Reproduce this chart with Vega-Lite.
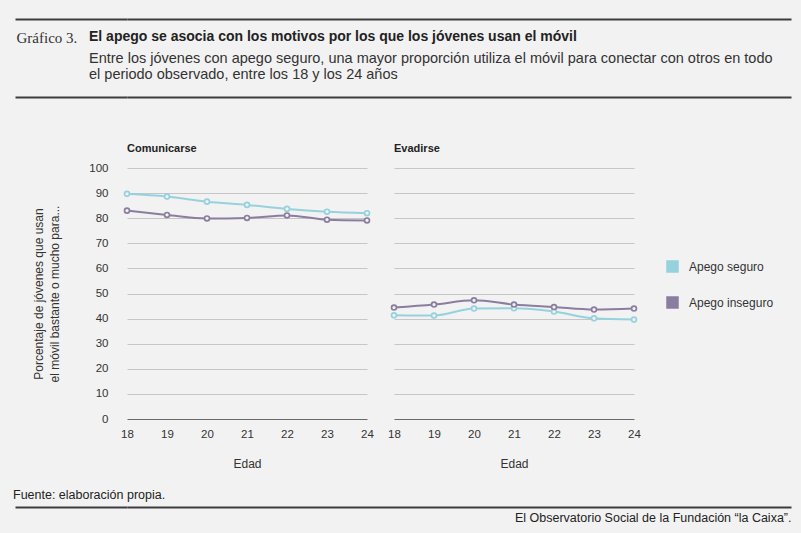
{
  "$schema": "https://vega.github.io/schema/vega-lite/v6.json",
  "background": "#f2f2f2",
  "padding": {"left": 13, "top": 18, "right": 10, "bottom": 9},
  "config": {
    "font": "Liberation Sans",
    "view": {"stroke": null},
    "axis": {"labelColor": "#333", "titleColor": "#333", "labelFont": "Liberation Sans", "titleFont": "Liberation Sans"}
  },
  "spacing": 18,
  "vconcat": [
    {
      "width": 664,
      "height": 78,
      "data": {"values": [{"v": 0}]},
      "mark": {"type": "point", "opacity": 0},
      "title": {
        "text": "El apego se asocia con los motivos por los que los jóvenes usan el móvil",
        "subtitle": [
          "Entre los jóvenes con apego seguro, una mayor proporción utiliza el móvil para conectar con otros en todo",
          "el periodo observado, entre los 18 y los 24 años"
        ],
        "anchor": "start",
        "frame": "group",
        "orient": "top",
        "dx": -38,
        "offset": -63,
        "fontSize": 14,
        "fontWeight": "bold",
        "color": "#222",
        "subtitleFontSize": 14.5,
        "subtitleColor": "#333",
        "subtitlePadding": 8,
        "subtitleLineHeight": 16
      },
      "encoding": {
        "x": {
          "field": "v",
          "type": "quantitative",
          "scale": {"domain": [0, 1]},
          "axis": {
            "orient": "bottom",
            "values": [0],
            "domain": false,
            "labels": false,
            "grid": false,
            "ticks": true,
            "tickColor": "transparent",
            "tickSize": 27,
            "title": null
          }
        },
        "y": {
          "field": "v",
          "type": "quantitative",
          "scale": {"domain": [0, 1]},
          "axis": {
            "values": [0, 1],
            "domain": false,
            "labels": false,
            "grid": true,
            "gridColor": "#3d3d3d",
            "gridWidth": 2,
            "ticks": true,
            "tickSize": 112,
            "tickColor": "#3d3d3d",
            "tickWidth": 2,
            "title": "Gráfico 3.",
            "titleAngle": 0,
            "titleAlign": "left",
            "titleBaseline": "middle",
            "titleX": -111,
            "titleY": 18,
            "titleFont": "Liberation Serif",
            "titleFontSize": 15,
            "titleFontWeight": "normal",
            "titleColor": "#333"
          }
        }
      }
    },
    {
      "data": {
        "values": [
          {"motivo": "Comunicarse", "apego": "Apego seguro", "edad": 18, "pct": 89.7},
          {"motivo": "Comunicarse", "apego": "Apego seguro", "edad": 19, "pct": 88.6},
          {"motivo": "Comunicarse", "apego": "Apego seguro", "edad": 20, "pct": 86.6},
          {"motivo": "Comunicarse", "apego": "Apego seguro", "edad": 21, "pct": 85.3},
          {"motivo": "Comunicarse", "apego": "Apego seguro", "edad": 22, "pct": 83.7},
          {"motivo": "Comunicarse", "apego": "Apego seguro", "edad": 23, "pct": 82.6},
          {"motivo": "Comunicarse", "apego": "Apego seguro", "edad": 24, "pct": 82.0},
          {"motivo": "Comunicarse", "apego": "Apego inseguro", "edad": 18, "pct": 83.0},
          {"motivo": "Comunicarse", "apego": "Apego inseguro", "edad": 19, "pct": 81.3},
          {"motivo": "Comunicarse", "apego": "Apego inseguro", "edad": 20, "pct": 79.9},
          {"motivo": "Comunicarse", "apego": "Apego inseguro", "edad": 21, "pct": 80.1},
          {"motivo": "Comunicarse", "apego": "Apego inseguro", "edad": 22, "pct": 81.1},
          {"motivo": "Comunicarse", "apego": "Apego inseguro", "edad": 23, "pct": 79.4},
          {"motivo": "Comunicarse", "apego": "Apego inseguro", "edad": 24, "pct": 79.1},
          {"motivo": "Evadirse", "apego": "Apego seguro", "edad": 18, "pct": 41.3},
          {"motivo": "Evadirse", "apego": "Apego seguro", "edad": 19, "pct": 41.2},
          {"motivo": "Evadirse", "apego": "Apego seguro", "edad": 20, "pct": 44.0},
          {"motivo": "Evadirse", "apego": "Apego seguro", "edad": 21, "pct": 44.1},
          {"motivo": "Evadirse", "apego": "Apego seguro", "edad": 22, "pct": 42.8},
          {"motivo": "Evadirse", "apego": "Apego seguro", "edad": 23, "pct": 40.1},
          {"motivo": "Evadirse", "apego": "Apego seguro", "edad": 24, "pct": 39.6},
          {"motivo": "Evadirse", "apego": "Apego inseguro", "edad": 18, "pct": 44.4},
          {"motivo": "Evadirse", "apego": "Apego inseguro", "edad": 19, "pct": 45.6},
          {"motivo": "Evadirse", "apego": "Apego inseguro", "edad": 20, "pct": 47.3},
          {"motivo": "Evadirse", "apego": "Apego inseguro", "edad": 21, "pct": 45.6},
          {"motivo": "Evadirse", "apego": "Apego inseguro", "edad": 22, "pct": 44.6},
          {"motivo": "Evadirse", "apego": "Apego inseguro", "edad": 23, "pct": 43.6},
          {"motivo": "Evadirse", "apego": "Apego inseguro", "edad": 24, "pct": 44.0}
        ]
      },
      "facet": {
        "column": {
          "field": "motivo",
          "type": "nominal",
          "sort": ["Comunicarse", "Evadirse"],
          "title": null,
          "header": {
            "labelAnchor": "start",
            "labelFontWeight": "bold",
            "labelFontSize": 11,
            "labelColor": "#222",
            "labelPadding": 14
          }
        }
      },
      "spacing": 15,
      "spec": {
        "width": 240,
        "height": 251,
        "encoding": {
          "x": {
            "field": "edad",
            "type": "quantitative",
            "scale": {"domain": [18, 24], "nice": false, "zero": false},
            "axis": {
              "values": [18, 19, 20, 21, 22, 23, 24],
              "format": "d",
              "domain": false,
              "ticks": false,
              "grid": false,
              "labelFlush": false,
              "labelOverlap": false,
              "labelFontSize": 11.5,
              "labelPadding": 9,
              "title": "Edad",
              "titleFontSize": 12,
              "titleFontWeight": "normal",
              "titlePadding": 19
            }
          },
          "y": {
            "field": "pct",
            "type": "quantitative",
            "scale": {"domain": [0, 100], "nice": false},
            "axis": {
              "values": [0, 10, 20, 30, 40, 50, 60, 70, 80, 90, 100],
              "domain": false,
              "ticks": false,
              "grid": true,
              "gridColor": {"condition": {"test": "datum.value === 0", "value": "#6a6a6a"}, "value": "#c6c6c6"},
              "labelFontSize": 11.5,
              "labelPadding": 13,
              "title": ["Porcentaje de jóvenes que usan", "el móvil bastante o mucho para..."],
              "titleFontSize": 12,
              "titleFontWeight": "normal",
              "titleLineHeight": 16,
              "titlePadding": 27
            }
          },
          "color": {
            "field": "apego",
            "type": "nominal",
            "scale": {"domain": ["Apego seguro", "Apego inseguro"], "range": ["#95d2de", "#8b7d9f"]},
            "legend": {
              "title": null,
              "orient": "none",
              "legendX": 539,
              "legendY": 241,
              "padding": 0,
              "labelFontSize": 12,
              "labelColor": "#333",
              "labelOffset": 10,
              "rowPadding": 19,
              "symbolSize": 121,
              "encode": {
                "symbols": {
                  "update": {
                    "shape": {"value": "square"},
                    "fill": {"scale": "color", "field": "value"},
                    "fillOpacity": {"value": 1},
                    "stroke": {"value": "transparent"},
                    "opacity": {"value": 1}
                  }
                }
              }
            }
          }
        },
        "layer": [
          {"mark": {"type": "line", "strokeWidth": 2, "interpolate": "monotone"}},
          {"mark": {"type": "point", "filled": false, "fill": "#f2f2f2", "fillOpacity": 1, "size": 24, "strokeWidth": 1.7, "opacity": 1}}
        ]
      }
    },
    {
      "width": 664,
      "height": 1,
      "data": {"values": [{"v": 0}]},
      "mark": {"type": "point", "opacity": 0},
      "title": {
        "text": "Fuente: elaboración propia.",
        "anchor": "start",
        "frame": "group",
        "orient": "top",
        "dx": -114,
        "offset": 3,
        "fontSize": 12.5,
        "fontWeight": "normal",
        "color": "#222"
      },
      "encoding": {
        "x": {
          "field": "v",
          "type": "quantitative",
          "scale": {"domain": [0, 1]},
          "axis": {
            "domain": false,
            "labels": false,
            "ticks": false,
            "grid": false,
            "title": "El Observatorio Social de la Fundación “la Caixa”.",
            "titleAnchor": "end",
            "titlePadding": 4,
            "titleFontSize": 12.5,
            "titleFontWeight": "normal",
            "titleColor": "#222"
          }
        },
        "y": {
          "field": "v",
          "type": "quantitative",
          "scale": {"domain": [0, 1]},
          "axis": {
            "values": [0],
            "domain": false,
            "labels": false,
            "grid": true,
            "gridColor": "#3d3d3d",
            "gridWidth": 2,
            "ticks": true,
            "tickSize": 112,
            "tickColor": "#3d3d3d",
            "tickWidth": 2,
            "title": null
          }
        }
      }
    }
  ]
}
